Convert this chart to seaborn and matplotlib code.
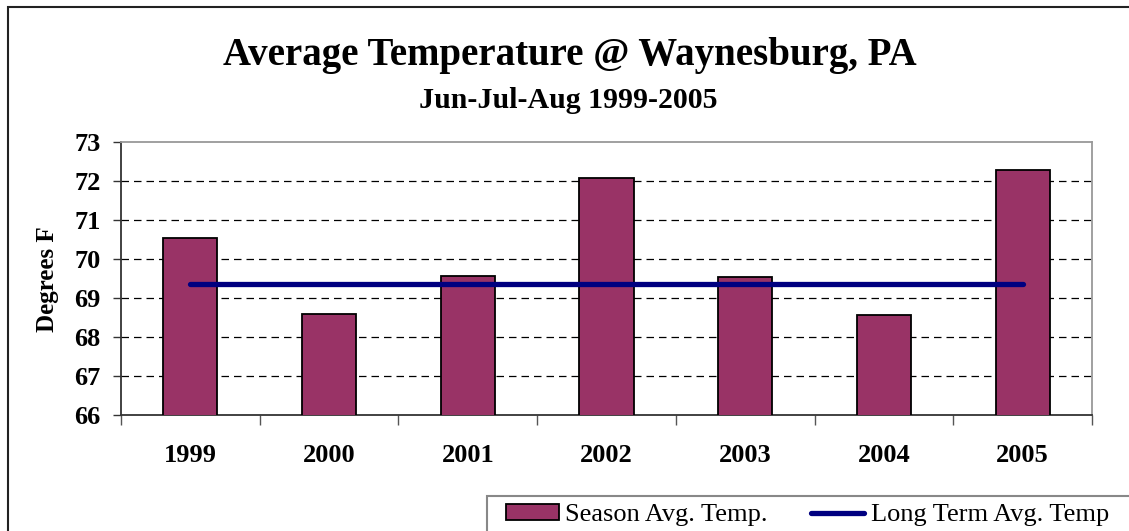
import numpy as np
import pandas as pd
import matplotlib
matplotlib.use("Agg")
import matplotlib.pyplot as plt
from matplotlib.patches import Rectangle, Patch
from matplotlib.lines import Line2D
import seaborn as sns

years = ["1999", "2000", "2001", "2002", "2003", "2004", "2005"]
season_avg = [70.55, 68.60, 69.57, 72.08, 69.53, 68.56, 72.29]
long_term = [69.37, 69.37, 69.37, 69.37, 69.37, 69.37, 69.37]
y_ticks = [66, 67, 68, 69, 70, 71, 72, 73]

title = "Average Temperature @ Waynesburg, PA"
subtitle = "Jun-Jul-Aug 1999-2005"
ylabel = "Degrees F"
legend_labels = ["Season Avg. Temp.", "Long Term Avg. Temp"]

sns.set_theme(style="white")
plt.rcParams["font.family"] = ["Liberation Serif", "DejaVu Serif"]
plt.rcParams["text.color"] = "black"
plt.rcParams["axes.labelcolor"] = "black"
plt.rcParams["xtick.color"] = "black"
plt.rcParams["ytick.color"] = "black"

W, H = 1129, 531
fig = plt.figure(figsize=(W / 100, H / 100), dpi=100)
ax = fig.add_axes([121 / W, 1 - 415.3 / H, (1092 - 121) / W, (415.3 - 142) / H])

df = pd.DataFrame({"year": years, "temp": season_avg})
sns.barplot(data=df, x="year", y="temp", ax=ax, color="#993366",
            saturation=1, width=0.39, edgecolor="black", linewidth=1.3, zorder=3)
for p in ax.patches:
    p.set_facecolor("#993366")

sns.lineplot(x=np.arange(len(years)), y=long_term, ax=ax, color="#000080",
             linewidth=3.8, zorder=4, solid_capstyle="round")

ax.set_ylim(y_ticks[0], y_ticks[-1])
ax.set_xlim(-0.5, len(years) - 0.5)
ax.set_yticks(y_ticks)
ax.set_yticklabels([str(t) for t in y_ticks], fontsize=19, fontweight="bold", color="black")
ax.set_xticks(range(len(years)))
ax.set_xticklabels(years, fontsize=19, fontweight="bold", color="black")
ax.set_xticks(np.arange(-0.5, len(years), 1.0), minor=True)
ax.tick_params(axis="x", which="major", length=0, pad=21)
ax.tick_params(axis="x", which="minor", length=7, width=1, color="#555555", direction="out", bottom=True)
ax.tick_params(axis="y", which="major", length=5.5, width=1, color="#333333", direction="out", left=True, pad=9)
ax.set_xlabel("")
ax.set_ylabel(ylabel, fontsize=18, fontweight="bold", labelpad=11, color="black")

for yv in y_ticks[1:-1]:
    ax.axhline(yv, color="black", linestyle=(0, (6, 4)), linewidth=0.9, zorder=1)

ax.spines["left"].set_color("#333333")
ax.spines["bottom"].set_color("#333333")
ax.spines["left"].set_linewidth(1.3)
ax.spines["bottom"].set_linewidth(1.3)
ax.spines["top"].set_color("#999999")
ax.spines["right"].set_color("#999999")
ax.spines["top"].set_linewidth(1.3)
ax.spines["right"].set_linewidth(1.3)
for s in ax.spines.values():
    s.set_visible(True)

fig.text(570 / W, 1 - 55 / H, title, ha="center", va="center", fontsize=28, fontweight="bold", color="black")
fig.text(568 / W, 1 - 100 / H, subtitle, ha="center", va="center", fontsize=21.5, fontweight="bold", color="black")

# outer chart frame
fig.patches.append(Rectangle((8 / W, -0.1), 1.2, 1 - 7 / H + 0.1, transform=fig.transFigure,
                             fill=False, edgecolor="#222222", linewidth=1.5))
# legend frame
fig.patches.append(Rectangle((487 / W, -0.1), 1.0, 1 - 496 / H + 0.1, transform=fig.transFigure,
                             fill=False, edgecolor="#888888", linewidth=1.5))

handles = [Patch(facecolor="#993366", edgecolor="black", linewidth=1.3),
           Line2D([0], [0], color="#000080", linewidth=3.8, solid_capstyle="round")]
fig.legend(handles, legend_labels, loc="center left", bbox_to_anchor=(506 / W, 1 - 515 / H),
           ncol=2, frameon=False, fontsize=19, handlelength=2.0, handletextpad=0.25,
           columnspacing=1.65, handleheight=0.55, borderaxespad=0, borderpad=0,
           labelcolor="black")

fig.savefig("out.png", dpi=100, facecolor="white")
